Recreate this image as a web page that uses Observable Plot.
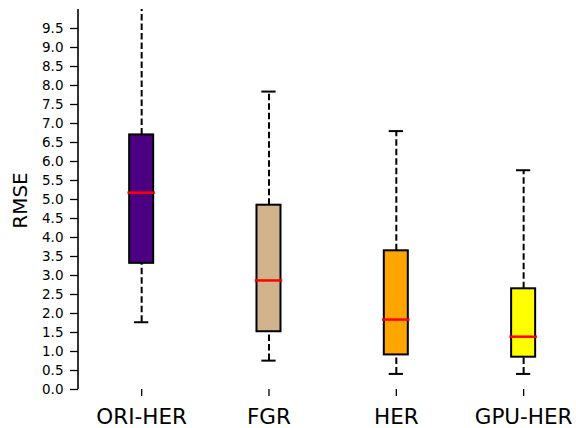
<!DOCTYPE html>
<html>
<head>
<meta charset="utf-8">
<script src="https://cdn.jsdelivr.net/npm/d3@7"></script>
<script src="https://cdn.jsdelivr.net/npm/@observablehq/plot@0.6"></script>
<style>
  html, body { margin: 0; padding: 0; background: #fff; }
  #chart svg { display: block; }
</style>
</head>
<body>
<div id="chart"></div>
<script>
// Data
const categories = ["ORI-HER", "FGR", "HER", "GPU-HER"];
const whiskerLow = [1.77, 0.76, 0.41, 0.41];
const q1 = [3.32, 1.52, 0.91, 0.85];
const median = [5.18, 2.87, 1.84, 1.39];
const q3 = [6.70, 4.85, 3.65, 2.65];
const whiskerHigh = [10.6, 7.84, 6.80, 5.77];
const fills = ["#4B0082", "#D2B48C", "#FFA500", "#FFFF00"];
const yTicks = d3.range(0, 20).map(i => i * 0.5);
const yLabel = "RMSE";

const data = categories.map((c, i) => ({
  cat: c, pos: i + 1,
  lo: whiskerLow[i], q1: q1[i], med: median[i], q3: q3[i], hi: whiskerHigh[i],
  fill: fills[i]
}));

const BOX = 0.0943, MED = 0.108, CAP = 0.056;

const chart = Plot.plot({
  width: 576,
  height: 428,
  marginLeft: 78,
  marginRight: 0,
  marginTop: 9,
  marginBottom: 39,
  style: { fontFamily: "DejaVu Sans", background: "white", color: "black" },
  x: { type: "linear", domain: [0.5, 4.5], range: [77.5, 586.8] },
  y: { domain: [0, 10] },
  marks: [
    // whiskers
    Plot.ruleX(data, { x: "pos", y1: "q3", y2: "hi", stroke: "black", strokeWidth: 2, strokeDasharray: "6.5,3", clip: true }),
    Plot.ruleX(data, { x: "pos", y1: "lo", y2: "q1", stroke: "black", strokeWidth: 2, strokeDasharray: "6.5,3", clip: true }),
    // caps
    Plot.ruleY(data, { y: "hi", x1: d => d.pos - CAP, x2: d => d.pos + CAP, stroke: "black", strokeWidth: 2, clip: true }),
    Plot.ruleY(data, { y: "lo", x1: d => d.pos - CAP, x2: d => d.pos + CAP, stroke: "black", strokeWidth: 2, clip: true }),
    // boxes
    Plot.rect(data, { x1: d => d.pos - BOX, x2: d => d.pos + BOX, y1: "q1", y2: "q3", fill: d => d.fill, stroke: "black", strokeWidth: 2 }),
    // medians
    Plot.ruleY(data, { y: "med", x1: d => d.pos - MED, x2: d => d.pos + MED, stroke: "#ff0000", strokeWidth: 2.5 }),
    // left spine
    Plot.ruleX([0.5], { y1: 0, y2: 10, stroke: "black", strokeWidth: 1.6 }),
    Plot.axisY({
      ticks: yTicks, tickFormat: d3.format(".1f"), tickSize: 8, tickPadding: 7,
      fontSize: 13.5, strokeWidth: 1.3, label: null
    }),
    Plot.text([yLabel], {
      frameAnchor: "left", textAnchor: "middle", lineAnchor: "middle",
      rotate: -90, dx: -58, dy: 1, fontSize: 20, fill: "black"
    }),
    Plot.axisX({
      ticks: categories.map((c, i) => i + 1), tickFormat: i => categories[i - 1],
      tickSize: 7, tickPadding: 12, fontSize: 21.5, strokeWidth: 1.3, label: null
    })
  ]
});

document.getElementById("chart").appendChild(chart);
</script>
</body>
</html>
